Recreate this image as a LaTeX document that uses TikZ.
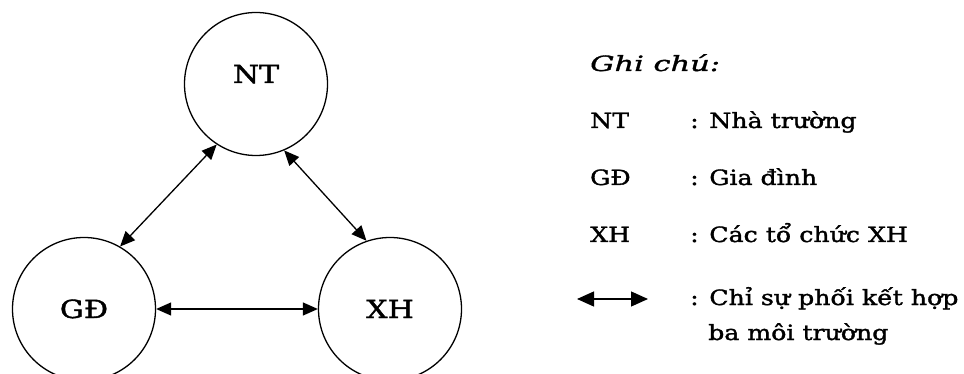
\documentclass[tikz,border=0pt]{standalone}
\usepackage{fontspec}
\setmainfont{DejaVu Serif}[FakeStretch=1.2, FakeBold=1.6]
\newfontfamily\gcfont{DejaVu Serif}[FakeStretch=1.45, FakeBold=1.6]
\usetikzlibrary{arrows.meta}
\tikzset{
  circ/.style={draw, circle, line width=1.3pt, minimum size=143pt, inner sep=0pt},
  lbl/.style={anchor=base, inner sep=0pt, font=\fontsize{25}{29}\selectfont},
  leg/.style={anchor=base west, inner sep=0pt, font=\fontsize{21}{25}\selectfont},
  arr/.style={line width=1.3pt, {Triangle[length=15pt,width=13pt]}-{Triangle[length=15pt,width=13pt]}},
  arrL/.style={line width=1.3pt, {Triangle[length=17pt,width=15pt]}-{Triangle[length=17pt,width=15pt]}}
}
\begin{document}
\begin{tikzpicture}[x=1pt,y=-1pt]
\useasboundingbox (0,0) rectangle (964,374);
% circles
\node[circ] (NT) at (256,84) {};
\node[circ] (GD) at (84,309) {};
\node[circ] (XH) at (390,309) {};
\node[lbl] (NTt) at (256,83) {NT};
\node[lbl] (GDt) at (84,318) {GĐ};
\node[lbl] (XHt) at (390,318) {XH};
% connectors
\draw[arr] (NT.237) -- (GD.60);
\draw[arr] (NT.293) -- (XH.109);
\draw[arr] (GD.east) -- (XH.west);
% legend
\node[leg, font=\fontsize{21}{25}\selectfont\gcfont\itshape] (gc) at (590,71) {Ghi chú:};
\node[leg] (k1) at (590,128) {NT};
\node[leg] (v1) at (690,128) {: Nhà trường};
\node[leg] (k2) at (590,185) {GĐ};
\node[leg] (v2) at (690,185) {: Gia đình};
\node[leg] (k3) at (590,242) {XH};
\node[leg] (v3) at (690,242) {: Các tổ chức XH};
\coordinate (la) at (577,299);
\coordinate (lb) at (648,299);
\draw[arrL] (la) -- (lb);
\node[leg] (v4) at (690,305) {: Chỉ sự phối kết hợp};
\node[leg] (v5) at (708,340) {ba môi trường};
\end{tikzpicture}
\end{document}
